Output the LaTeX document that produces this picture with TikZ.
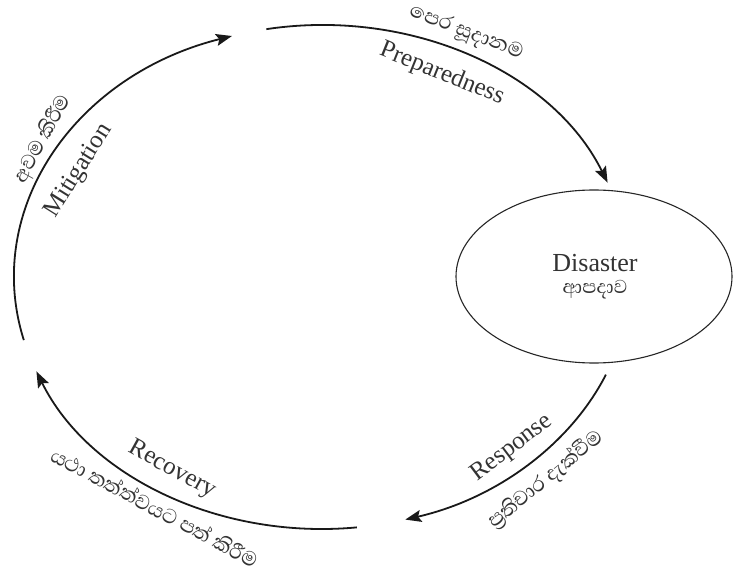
\documentclass[tikz,border=0pt]{standalone}
\usepackage{fontspec}
\setmainfont{Liberation Serif}
\newfontfamily\sinhfont[Script=Sinhala]{Abhaya Libre}
\usetikzlibrary{arrows.meta}
\tikzset{
  cyc/.style={line width=1.8pt, draw=black!90, -{Stealth[length=16pt,width=12pt,inset=3pt]}},
  en/.style={font=\fontsize{25}{27}\selectfont, text=black!80, inner sep=0pt},
  si/.style={font=\sinhfont\fontsize{26}{28}\selectfont, text=black!80, inner sep=0pt},
}
\begin{document}
\begin{tikzpicture}[x=1pt,y=1pt]
\useasboundingbox (0,0) rectangle (735,576);
\fill[white] (0,0) rectangle (735,576);
\coordinate (c) at (322,299);
% Disaster ellipse
\draw[line width=1.1pt, draw=black!85] (594,299.5) ellipse [x radius=138, y radius=86.5];
\node[font=\fontsize{26}{28}\selectfont, text=black!80, inner sep=0pt] (dis) at (595,313) {Disaster};
\node[si, font=\sinhfont\fontsize{24}{26}\selectfont] (dissi) at (595,286) {ආපදාව};
% arcs
\draw[cyc] (c) ++(194.5:308 and 252) arc[start angle=194.5, end angle=107, x radius=308, y radius=252];
\draw[cyc] (c) ++(100.4:308 and 252) arc[start angle=100.4, end angle=22, x radius=308, y radius=252];
\draw[cyc] (c) ++(-22.8:308 and 252) arc[start angle=-22.8, end angle=-74.3, x radius=308, y radius=252];
\draw[cyc] (c) ++(-83.5:308 and 252) arc[start angle=-83.5, end angle=-158, x radius=308, y radius=252];
% labels
\node[en, rotate=-22] (prep) at (442,502) {Preparedness};
\node[si, rotate=-21] (prepsi) at (466,543) {පෙර සූදානම};
\node[en, rotate=58] (mit) at (79,405) {Mitigation};
\node[si, rotate=61] (mitsi) at (43,437) {අවම කිරීම};
\node[en, rotate=37] (resp) at (512,128) {Response};
\node[si, rotate=39] (respsi) at (546,96) {ප්‍රතිචාර දැක්වීම};
\node[en, rotate=-29] (rec) at (172,106) {Recovery};
\node[si, rotate=-28] (recsi) at (155,69) {යථා තත්ත්වයට පත් කිරීම};
\end{tikzpicture}
\end{document}
